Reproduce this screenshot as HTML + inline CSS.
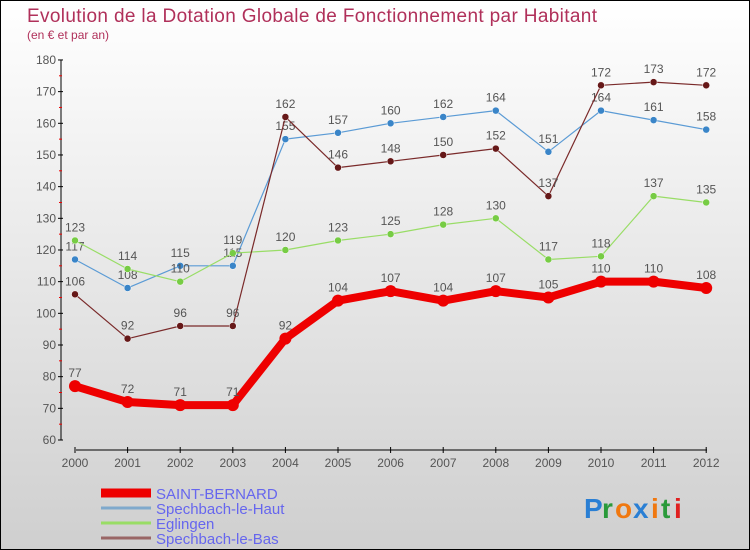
<!DOCTYPE html>
<html><head><meta charset="utf-8"><style>
body{margin:0}
#c{position:relative;width:748px;height:548px;border:1px solid #000;background:linear-gradient(#fff,#cfcfcf);font-family:"Liberation Sans",sans-serif;overflow:hidden}
</style></head><body>
<div id="c">
<svg id="s" width="748" height="548" style="position:absolute;left:0;top:0">
<text x="26" y="21" font-size="19" fill="#b0305a" textLength="570">Evolution de la Dotation Globale de Fonctionnement par Habitant</text>
<text x="26" y="38" font-size="12" fill="#b0305a">(en € et par an)</text>
</svg>
</div>
<script>
const years=[2000,2001,2002,2003,2004,2005,2006,2007,2008,2009,2010,2011,2012];
const saint=[77,72,71,71,92,104,107,104,107,105,110,110,108];
const haut=[117,108,115,115,155,157,160,162,164,151,164,161,158];
const eglingen=[123,114,110,119,120,123,125,128,130,117,118,137,135];
const bas=[106,92,96,96,162,146,148,150,152,137,172,173,172];
const yTicks=[60,70,80,90,100,110,120,130,140,150,160,170,180];
const names=["SAINT-BERNARD","Spechbach-le-Haut","Eglingen","Spechbach-le-Bas"];
const NS="http://www.w3.org/2000/svg",s=document.getElementById('s');
const X=i=>74+i*52.6, Y=v=>439-(v-60)*3.167;
function el(t,a,txt){const e=document.createElementNS(NS,t);for(const k in a)e.setAttribute(k,a[k]);if(txt!=null)e.textContent=txt;s.appendChild(e);return e;}
let e=el('line',{x1:60,y1:Y(180),x2:60,y2:Y(60),stroke:'#000'});

e=el('line',{x1:75,y1:449,x2:706,y2:449,stroke:'#000'});

yTicks.forEach((v,i)=>{el('line',{x1:57,x2:62,y1:Y(v),y2:Y(v),stroke:'#000'});
 if(i<yTicks.length-1)el('line',{x1:58,x2:61,y1:Y(v+5),y2:Y(v+5),stroke:'#e00'});
 e=el('text',{x:55,y:Y(v)+4,'font-size':12,fill:'#555','text-anchor':'end'},v);
 });
years.forEach((y,i)=>{el('line',{x1:X(i),x2:X(i),y1:446,y2:452,stroke:'#000'});
 e=el('text',{x:X(i),y:466,'font-size':12,fill:'#555','text-anchor':'middle'},y);
 });
const series=[[haut,'#5b9bd5',1.2,'#3a85c8',3.5],[eglingen,'#99dd66',1.2,'#77cc44',3.5],[bas,'#7a2a2a',1.2,'#661818',3.5],[saint,'#ee0000',8,'#ee0000',6]];
series.forEach(([d,c,w,mc,r],k)=>{
 e=el('polyline',{points:d.map((v,i)=>X(i)+','+Y(v)).join(' '),fill:'none',stroke:c,'stroke-width':w,'stroke-linejoin':'round'});
 
 d.forEach((v,i)=>{e=el('circle',{cx:X(i),cy:Y(v),r:r,fill:mc,stroke:k==3?'none':'#fff','stroke-width':0.5});
  
  e=el('text',{x:X(i),y:Y(v)-9,'font-size':12,fill:'#555','text-anchor':'middle'},v);
  });
});
const lc=['#ee0000','#7fa9cc','#99dd66','#996666'],lw=[9,3,3,3];
names.forEach((n,i)=>{const y=492+i*15;
 e=el('line',{x1:100,x2:150,y1:y,y2:y,stroke:lc[i],'stroke-width':lw[i]});
 
 e=el('text',{x:155,y:y+6,'font-size':15,fill:'#6666ee'},n);
 });
const logo=[['P','#2a7fd4'],['r','#2a9a3a'],['o','#f07810'],['x','#2a7fd4'],['i','#f07810'],['t','#2a9a3a'],['i','#e02020']];
let lx=583;logo.forEach(([ch,c])=>{e=el('text',{x:lx,y:517,'font-size':28,'font-weight':'bold',fill:c},ch);
 lx+=ch=='i'?10:ch=='t'||ch=='r'?13:18;});
</script>
</body></html>
